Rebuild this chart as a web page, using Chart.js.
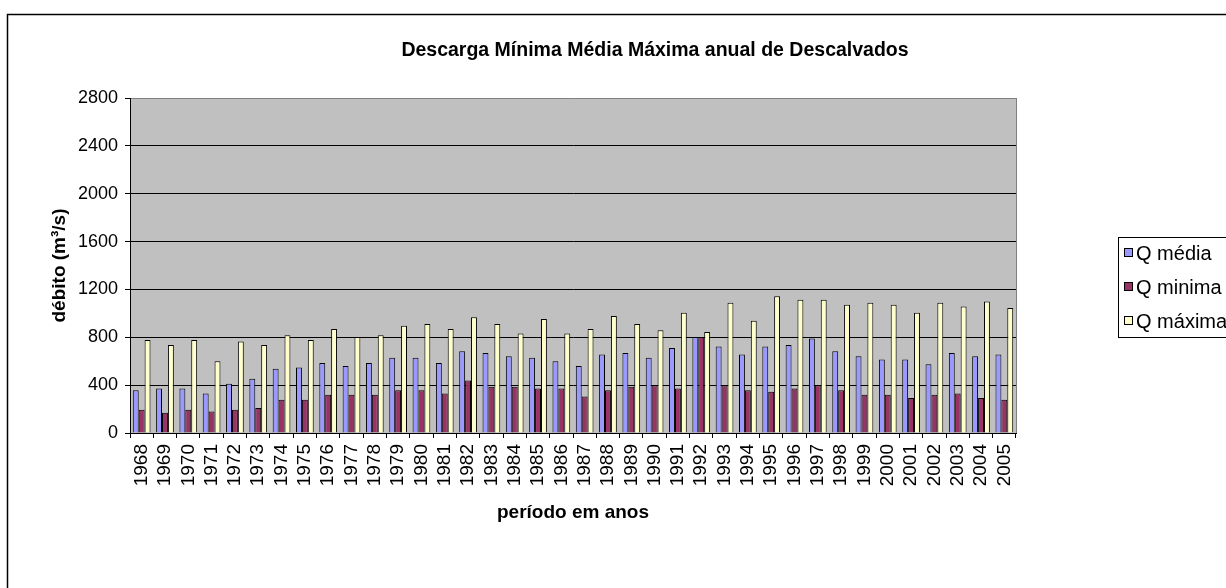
<!DOCTYPE html>
<html lang="pt">
<head>
<meta charset="utf-8">
<title>Descarga Mínima Média Máxima anual de Descalvados</title>
<script src="https://cdn.jsdelivr.net/npm/chart.js@4"></script>
<style>
    html, body { margin: 0; padding: 0; background: #ffffff; overflow: hidden; }
    canvas { display: block; }
</style>
</head>
<body>
<canvas id="meuGrafico" width="1226" height="588"></canvas>
<script>
// Dados
const anos = ["1968", "1969", "1970", "1971", "1972", "1973", "1974", "1975", "1976", "1977",
    "1978", "1979", "1980", "1981", "1982", "1983", "1984", "1985", "1986", "1987",
    "1988", "1989", "1990", "1991", "1992", "1993", "1994", "1995", "1996", "1997",
    "1998", "1999", "2000", "2001", "2002", "2003", "2004", "2005"];

const qMedia = [358, 372, 372, 330, 411, 453, 536, 547, 586, 561, 586, 628,
    628, 586, 683, 669, 642, 628, 600, 561, 656, 669, 628, 711, 803,
    722, 656, 722, 736, 789, 683, 642, 614, 614, 575, 669, 642, 656];

const qMinima = [194, 169, 194, 180, 194, 208, 278, 278, 319, 319, 319, 358,
    358, 330, 439, 386, 386, 372, 372, 306, 358, 386, 400, 372, 803,
    400, 358, 344, 372, 400, 358, 319, 319, 292, 319, 330, 292, 278];

const qMaxima = [778, 736, 778, 600, 764, 736, 817, 778, 869, 803, 817, 897,
    911, 869, 967, 911, 831, 953, 831, 869, 978, 911, 858, 1006, 844,
    1089, 939, 1142, 1114, 1114, 1072, 1089, 1072, 1006, 1089, 1058, 1100, 1044];

const ticksY = [0, 400, 800, 1200, 1600, 2000, 2400, 2800];

const fonte = "'Liberation Sans', Arial, sans-serif";

// Fundo cinza da área do gráfico
const fundoPlot = {
    id: "fundoPlot",
    beforeDraw(chart) {
        const { ctx, chartArea: a } = chart;
        ctx.save();
        ctx.fillStyle = "#c0c0c0";
        ctx.fillRect(a.left, a.top, a.right - a.left, a.bottom - a.top);
        ctx.restore();
    }
};

// Moldura, título e legenda (a legenda fica cortada à direita como no original)
const extras = {
    id: "extras",
    afterDraw(chart) {
        const { ctx, chartArea: a } = chart;
        ctx.save();

        // borda direita da área do gráfico
        ctx.strokeStyle = "#808080";
        ctx.lineWidth = 1;
        ctx.beginPath();
        ctx.moveTo(a.right + 0.5, a.top);
        ctx.lineTo(a.right + 0.5, a.bottom);
        ctx.stroke();

        // moldura externa
        ctx.strokeStyle = "#000000";
        ctx.lineWidth = 1.5;
        ctx.beginPath();
        ctx.moveTo(7.5, 588);
        ctx.lineTo(7.5, 14.5);
        ctx.lineTo(1226, 14.5);
        ctx.stroke();

        // título
        ctx.fillStyle = "#000000";
        ctx.font = "bold 19.5px " + fonte;
        ctx.textAlign = "center";
        ctx.textBaseline = "middle";
        ctx.fillText("Descarga Mínima Média Máxima anual de Descalvados", 655, 51);

        // legenda
        ctx.strokeStyle = "#000000";
        ctx.lineWidth = 1;
        ctx.strokeRect(1118.5, 237.5, 140, 100);
        ctx.font = "20px " + fonte;
        ctx.textAlign = "left";
        chart.data.datasets.forEach((ds, i) => {
            const y = 253 + i * 34;
            ctx.fillStyle = ds.backgroundColor;
            ctx.fillRect(1124.5, y - 4.5, 8, 8);
            ctx.strokeRect(1124.5, y - 4.5, 8, 8);
            ctx.fillStyle = "#000000";
            ctx.fillText(ds.label, 1136, y + 1);
        });
        ctx.restore();
    }
};

const ctx = document.getElementById("meuGrafico");

const meuGrafico = new Chart(ctx.getContext("2d"), {
    type: "bar",
    data: {
        labels: anos,
        datasets: [
            {
                label: "Q média",
                data: qMedia,
                backgroundColor: "#9999ff",
                borderColor: "#000000",
                borderWidth: 1
            },
            {
                label: "Q minima",
                data: qMinima,
                backgroundColor: "#993366",
                borderColor: "#000000",
                borderWidth: 1
            },
            {
                label: "Q máxima",
                data: qMaxima,
                backgroundColor: "#ffffcc",
                borderColor: "#000000",
                borderWidth: 1
            }
        ]
    },
    options: {
        responsive: false,
        animation: false,
        categoryPercentage: 0.76,
        barPercentage: 1.0,
        layout: {
            padding: { left: 0, top: 98, right: 210, bottom: 0 }
        },
        plugins: {
            legend: { display: false },
            title: { display: false },
            tooltip: { enabled: false }
        },
        scales: {
            x: {
                afterFit(scale) { scale.height = 155; },
                grid: {
                    offset: true,
                    drawOnChartArea: false,
                    color: "#000000",
                    tickLength: 5
                },
                border: { color: "#000000" },
                ticks: {
                    autoSkip: false,
                    minRotation: 90,
                    maxRotation: 90,
                    padding: 6,
                    color: "#000000",
                    font: { family: fonte, size: 19 }
                },
                title: {
                    display: true,
                    text: "período em anos",
                    color: "#000000",
                    font: { family: fonte, size: 19, weight: "bold" },
                    padding: { top: 0, bottom: 64 }
                }
            },
            y: {
                min: 0,
                max: 2800,
                afterFit(scale) { scale.width = 130; },
                afterBuildTicks(scale) { scale.ticks = ticksY.map(v => ({ value: v })); },
                grid: {
                    color: (c) => (c.tick && c.tick.value === 2800 ? "#808080" : "#000000"),
                    tickColor: "#000000",
                    tickLength: 5
                },
                border: { color: "#000000" },
                ticks: {
                    padding: 7,
                    color: "#000000",
                    font: { family: fonte, size: 18 },
                    callback: (v) => String(v)
                },
                title: {
                    display: true,
                    text: "débito (m³/s)",
                    color: "#000000",
                    font: { family: fonte, size: 19, weight: "bold" },
                    padding: { top: 48, bottom: 0 }
                }
            }
        }
    },
    plugins: [fundoPlot, extras]
});
</script>
</body>
</html>
